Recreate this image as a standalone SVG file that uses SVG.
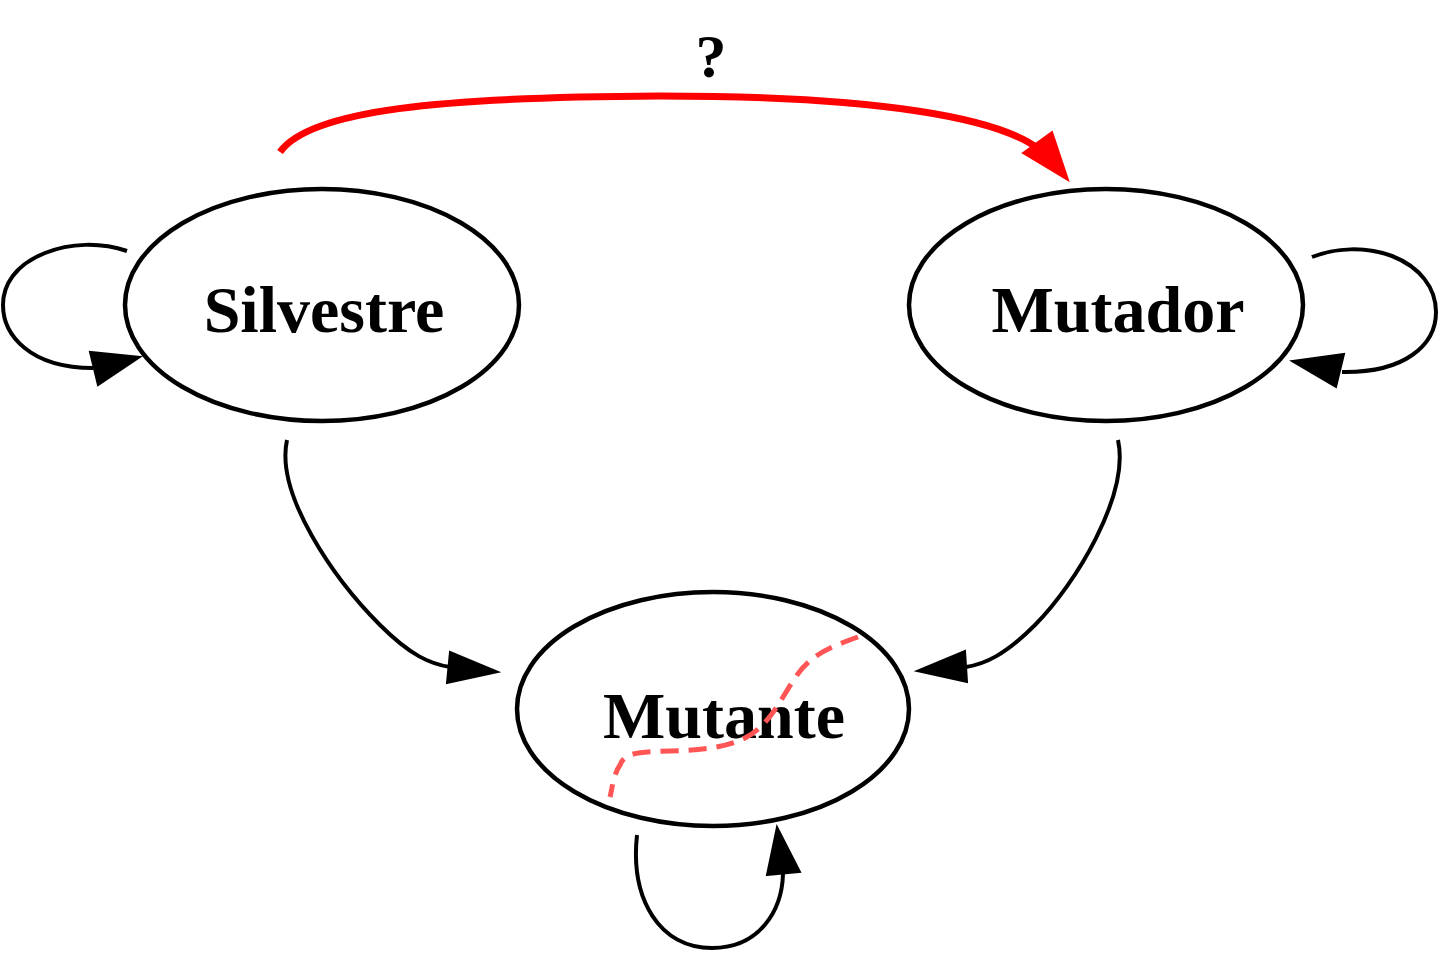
<svg xmlns="http://www.w3.org/2000/svg" width="1439" height="953" viewBox="0 0 1439 953">
<style>
.node ellipse{fill:#fff;stroke:#000;stroke-width:4.5}
.node text{font-family:"Liberation Serif","Times New Roman",serif;font-weight:bold;font-size:66px;text-anchor:middle;fill:#000}
.edge{fill:none;stroke:#000;stroke-width:4}
.head{fill:#000;stroke:#000;stroke-width:2}
</style>
<rect width="1439" height="953" fill="#fff"/>
<g id="nodes">
<g id="silvestre" class="node"><ellipse cx="322" cy="305" rx="197" ry="116"/><text x="324" y="332">Silvestre</text></g>
<g id="mutador" class="node"><ellipse cx="1106" cy="305" rx="197" ry="116"/><text x="1118" y="332">Mutador</text></g>
<g id="mutante" class="node"><ellipse cx="713" cy="709" rx="196" ry="117"/><text x="724" y="738">Mutante</text></g>
</g>
<g id="connectors">
<path class="edge" d="M127,251 C100,242 70,243 45,253 C15,265 3,285 3,305 C3,335 30,368 93,368"/>
<polygon class="head" points="90,352 98,385 140,357"/>
<path class="edge" d="M1312,257 C1335,248 1365,246 1392,256 C1420,267 1436,288 1436,312 C1436,345 1405,373 1342,372"/>
<polygon class="head" points="1344,354 1336,387 1292,361"/>
<path class="edge" d="M287,440 C275,495 335,580 380,625 C410,655 430,664 450,667"/>
<polygon class="head" points="450,652 447,683 498,672"/>
<path class="edge" d="M1118,440 C1130,495 1075,585 1035,625 C1005,655 985,664 966,667"/>
<polygon class="head" points="965,651 967,682 917,671"/>
<path class="edge" d="M637,835 C630,900 660,948 712,948 C760,948 782,910 783,874"/>
<polygon class="head" points="767,875 800,872 777,827"/>
<path d="M280,152 C310,110 440,97 660,96 C880,96 1000,118 1040,150" fill="none" stroke="#f00" stroke-width="7"/>
<polygon points="1023,153 1052,132 1068,180" fill="#f00" stroke="#f00" stroke-width="2"/>
<text x="711" y="77" font-family="'Liberation Serif','Times New Roman',serif" font-weight="bold" font-size="62" text-anchor="middle">?</text>
<path d="M858,637 C830,647 810,655 795,678 C780,700 770,725 745,738 C725,748 700,750 670,751 C640,752 625,752 620,765 C613,775 612,790 610,797" fill="none" stroke="#ff5555" stroke-width="5" stroke-dasharray="18,10"/>
</g>
</svg>
